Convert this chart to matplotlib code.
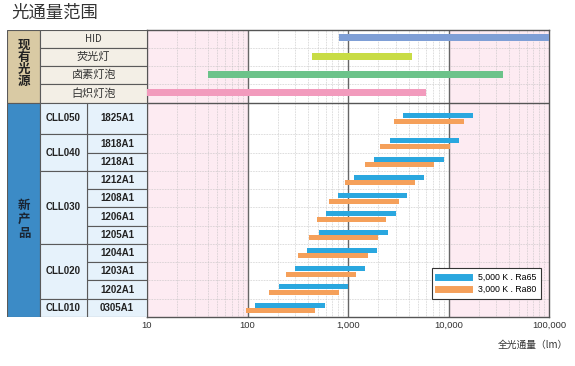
import matplotlib
matplotlib.use("Agg")
import matplotlib.pyplot as plt
from matplotlib.patches import Rectangle
from matplotlib.lines import Line2D
from matplotlib.ticker import NullLocator

plt.rcParams['font.family'] = ['Noto Sans CJK SC', 'DejaVu Sans']

# ---------------- data ----------------
title = "光通量范围"
xlabel = "全光通量（lm）"
existing_header = "现有光源"
new_header = "新产品"

existing_sources = ["HID", "荧光灯", "卤素灯泡", "白炽灯泡"]
existing_min = [820, 440, 40, 10]
existing_max = [100000, 4300, 35000, 6000]
existing_colors = ["#7f9fd6", "#c8dc45", "#6cc38a", "#f29bbd"]

families = ["CLL050", "CLL040", "CLL030", "CLL020", "CLL010"]
family_counts = [1, 2, 4, 3, 1]
models = ["1825A1", "1818A1", "1218A1", "1212A1", "1208A1", "1206A1",
          "1205A1", "1204A1", "1203A1", "1202A1", "0305A1"]
ra65_min = [3500, 2600, 1800, 1150, 800, 600, 510, 390, 300, 205, 120]
ra65_max = [17500, 12800, 9000, 5700, 3900, 3000, 2500, 1950, 1480, 1000, 590]
ra80_min = [2900, 2100, 1480, 940, 650, 490, 410, 320, 240, 165, 96]
ra80_max = [14300, 10400, 7200, 4600, 3200, 2400, 2000, 1570, 1200, 810, 470]
series_labels = ["5,000 K . Ra65", "3,000 K . Ra80"]
series_colors = ["#2aa7df", "#f5a05a"]

xticks = [10, 100, 1000, 10000, 100000]
xtick_labels = ["10", "100", "1,000", "10,000", "100,000"]

# ---------------- layout ----------------
W, H = 575, 366
fig = plt.figure(figsize=(W / 100, H / 100), dpi=100)

top_px, bot_px = 29.5, 317.0
left_px, right_px = 147.0, 549.0
tab_left = 7.0

first_row_h = 1.75
row_heights = [1.0] * len(existing_sources) + [first_row_h] + [1.0] * (len(models) - 1)
bounds = [0.0]
for h in row_heights:
    bounds.append(bounds[-1] + h)
total = bounds[-1]
centers = [(bounds[i] + bounds[i + 1]) / 2 for i in range(len(row_heights))]
n_top = len(existing_sources)
px_per_unit = (bot_px - top_px) / total


def px2row(y):
    return (y - top_px) / px_per_unit


B = (H - bot_px) / H
T = (H - top_px) / H
ax = fig.add_axes([left_px / W, B, (right_px - left_px) / W, T - B])
ax.set_xscale('log')
ax.set_xlim(10, 100000)
ax.set_ylim(total, 0)

# background bands
ax.axvspan(10, 100, color="#fdebf2", zorder=0, lw=0)
ax.axvspan(10000, 100000, color="#fdebf2", zorder=0, lw=0)

# grid
for d in [10, 100, 1000, 10000]:
    for m in range(2, 10):
        ax.axvline(m * d, color="#bdbdbd", lw=0.5, ls=(0, (1, 1.3)), zorder=1)
for v in [100, 1000, 10000]:
    ax.axvline(v, color="#666666", lw=1.0, zorder=2)
for i, b in enumerate(bounds[1:-1], start=1):
    if i == n_top:
        ax.axhline(b, color="#555555", lw=1.0, zorder=2)
    else:
        ax.axhline(b, color="#bdbdbd", lw=0.5, ls=(0, (1, 1.3)), zorder=1)

# existing source bars
for i in range(n_top):
    ax.barh(centers[i] - 0.04, existing_max[i] - existing_min[i], left=existing_min[i],
            height=0.38, color=existing_colors[i], zorder=3, lw=0)

# new product bars
off = 0.15
bh = 0.28
for j in range(len(models)):
    c = centers[n_top + j]
    ax.barh(c - off, ra65_max[j] - ra65_min[j], left=ra65_min[j], height=bh,
            color=series_colors[0], zorder=3, lw=0)
    ax.barh(c + off, ra80_max[j] - ra80_min[j], left=ra80_min[j], height=bh,
            color=series_colors[1], zorder=3, lw=0)

for s in ax.spines.values():
    s.set_color("#555555")
    s.set_linewidth(1.0)
ax.set_xticks(xticks)
ax.set_xticklabels(xtick_labels, fontsize=6.8, color="#333333",
                   family=['Liberation Sans', 'DejaVu Sans'])
ax.xaxis.set_minor_locator(NullLocator())
ax.tick_params(axis='x', length=0, pad=3)
ax.set_yticks([])

handles = [Line2D([0], [0], color=series_colors[0], lw=5),
           Line2D([0], [0], color=series_colors[1], lw=5)]
leg = ax.legend(handles, series_labels, loc='lower left',
                bbox_to_anchor=(0.699, 0.047), frameon=True,
                fancybox=False, edgecolor="#333333", framealpha=1,
                handlelength=3.6, handletextpad=1.0, borderpad=0.6,
                labelspacing=0.35, prop={'family': ['Liberation Sans', 'DejaVu Sans'], 'size': 6.3})
leg.get_frame().set_linewidth(0.8)
leg.set_zorder(5)

# ---------------- table ----------------
tab = fig.add_axes([tab_left / W, B, (left_px - tab_left) / W, T - B])
tab.set_xlim(tab_left, left_px)
tab.set_ylim(total, 0)
tab.axis('off')

col_a, col_b = 40.0, 87.0
line_c = "#5a5a5a"

# header cells
tab.add_patch(Rectangle((tab_left, 0), col_a - tab_left, bounds[n_top],
                        facecolor="#d9caa4", edgecolor=line_c, lw=0.8))
tab.add_patch(Rectangle((tab_left, bounds[n_top]), col_a - tab_left, total - bounds[n_top],
                        facecolor="#3c8bc6", edgecolor=line_c, lw=0.8))
for k, ch in enumerate(existing_header):
    tab.text(24, px2row(45 + 12 * k), ch, ha='center', va='center', fontsize=9,
             fontweight='bold', color="#222222")
for k, ch in enumerate(new_header):
    tab.text(24, px2row(205 + 14 * k), ch, ha='center', va='center', fontsize=9,
             fontweight='bold', color="#1a2533")

# existing source label cells
for i, name in enumerate(existing_sources):
    tab.add_patch(Rectangle((col_a, bounds[i]), left_px - col_a, row_heights[i],
                            facecolor="#f3efe6", edgecolor=line_c, lw=0.8))
    tab.text((col_a + left_px) / 2, centers[i], name, ha='center', va='center',
             fontsize=8 if name != "HID" else 7, color="#333333")

# model cells
for j, m in enumerate(models):
    r = n_top + j
    tab.add_patch(Rectangle((col_b, bounds[r]), left_px - col_b, row_heights[r],
                            facecolor="#e6f2fb", edgecolor=line_c, lw=0.8))
    tab.text((col_b + left_px) / 2, centers[r], m, ha='center', va='center',
             fontsize=7, fontweight='bold', color="#222222",
             family=['Liberation Sans', 'DejaVu Sans'])

# family cells
r = n_top
for fam, cnt in zip(families, family_counts):
    y0 = bounds[r]
    y1 = bounds[r + cnt]
    tab.add_patch(Rectangle((col_a, y0), col_b - col_a, y1 - y0,
                            facecolor="#e6f2fb", edgecolor=line_c, lw=0.8))
    tab.text((col_a + col_b) / 2, (y0 + y1) / 2, fam, ha='center', va='center',
             fontsize=7, fontweight='bold', color="#222222",
             family=['Liberation Sans', 'DejaVu Sans'])
    r += cnt

# title and axis label
fig.text(11 / W, 1 - 13 / H, title, fontsize=12.5, color="#333333", va='center', ha='left')
fig.text(568 / W, 1 - 345 / H, xlabel, fontsize=7, color="#333333", va='center', ha='right')

fig.savefig("out.png", dpi=100)
